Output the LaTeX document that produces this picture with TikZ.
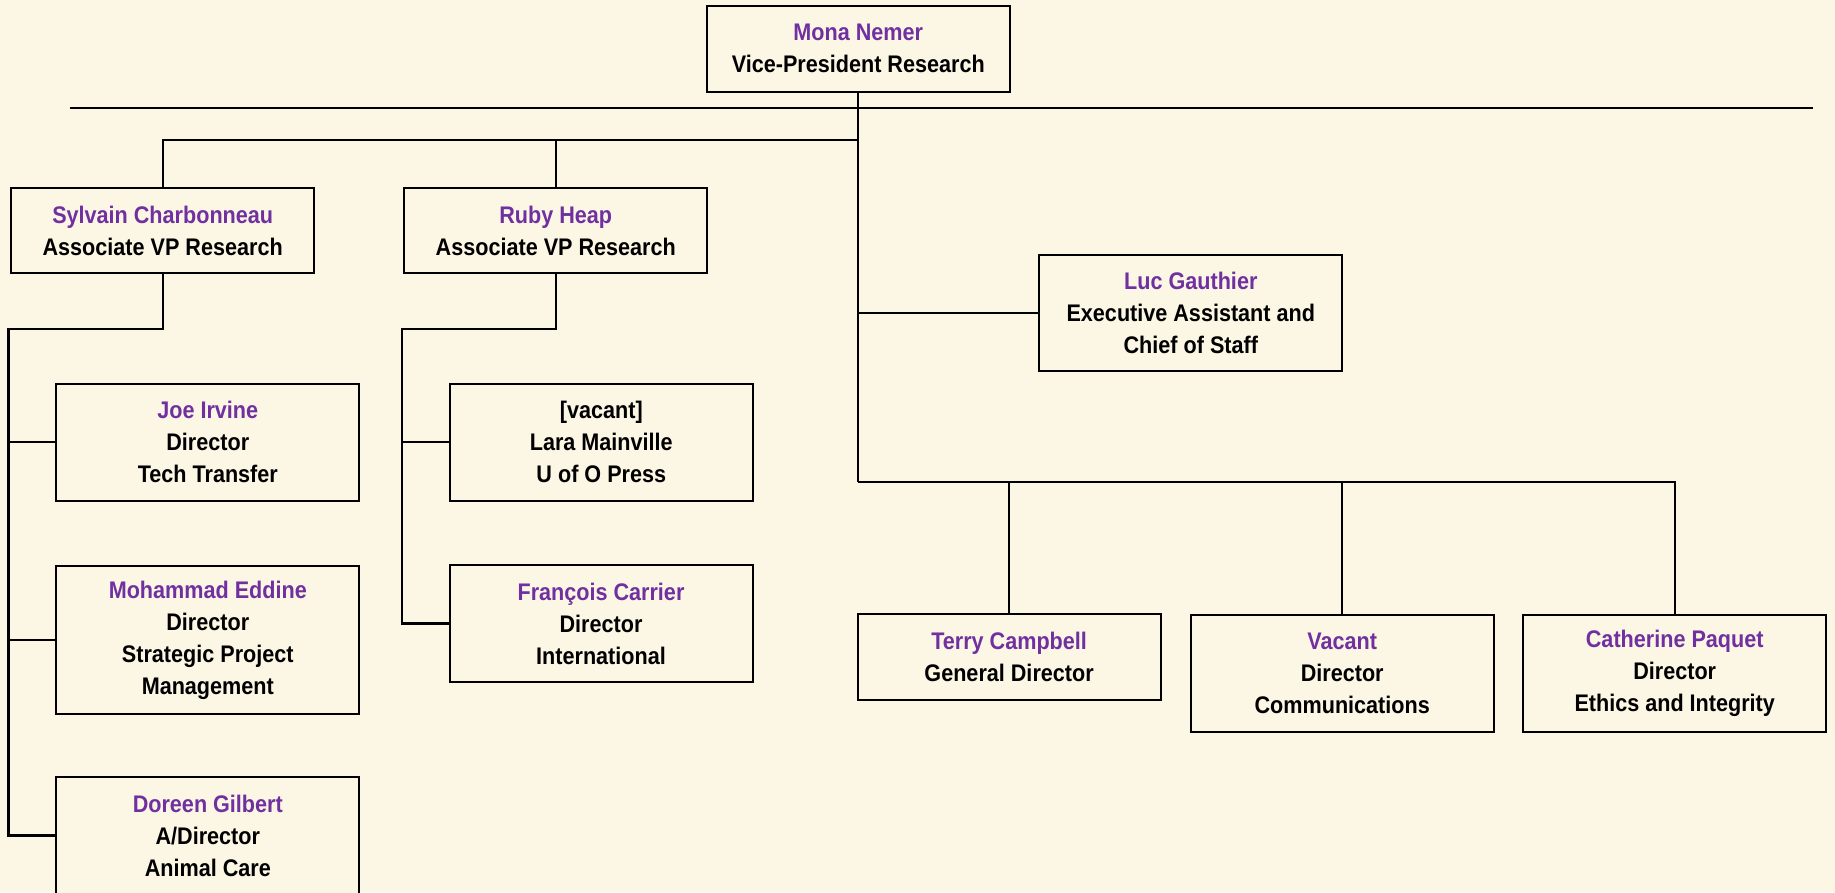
\documentclass[tikz,border=0pt]{standalone}
\usepackage{fontspec}
\setmainfont{Liberation Sans}[FakeStretch=0.9, BoldFont={Liberation Sans Bold}, BoldFeatures={FakeStretch=0.9}]
\definecolor{bgc}{RGB}{252,246,228}
\definecolor{pur}{RGB}{112,48,160}
\newcommand\pn[1]{\textcolor{pur}{#1}}
\tikzset{
  orgbox/.style={draw=black, line width=2pt, fill=bgc, inner sep=0pt, minimum width=303pt, align=center, font=\fontsize{24}{32}\selectfont\bfseries},
  two/.style={minimum height=85.5pt},
  three/.style={minimum height=116.5pt},
  four/.style={minimum height=148.5pt},
  conn/.style={draw=black, line width=2.3pt},
  thin/.style={draw=black, line width=2pt}
}
\begin{document}
\begin{tikzpicture}[x=1pt,y=-1pt]
\fill[bgc] (0,0) rectangle (1835,892);
\useasboundingbox (0,0) rectangle (1835,892);
\clip (0,0) rectangle (1835,892);

% coordinates
\coordinate (rl) at (70,108);
\coordinate (rr) at (1813,108);
\coordinate (br) at (858.3,140);
\coordinate (sylL) at (8.5,329.3);
\coordinate (rubL) at (402,329.3);
\coordinate (bus) at (858.3,482);

% nodes
\node[orgbox,two] (mona) at (858.3,48.8) {\pn{Mona Nemer}\\Vice-President Research};
\node[orgbox,two] (syl) at (162.7,230.5) {\pn{Sylvain Charbonneau}\\Associate VP Research};
\node[orgbox,two] (ruby) at (555.8,230.5) {\pn{Ruby Heap}\\Associate VP Research};
\node[orgbox,three] (luc) at (1190.8,313) {\pn{Luc Gauthier}\\Executive Assistant and\\Chief of Staff};
\node[orgbox,three] (joe) at (207.8,442.4) {\pn{Joe Irvine}\\Director\\Tech Transfer};
\node[orgbox,four] (moh) at (207.8,640) {\pn{Mohammad Eddine}\\Director\\Strategic Project\\Management};
\node[orgbox,three] (dor) at (207.8,835.5) {\pn{Doreen Gilbert}\\A/Director\\Animal Care};
\node[orgbox,three] (lara) at (601.3,442.4) {[vacant]\\Lara Mainville\\U of O Press};
\node[orgbox,three] (fran) at (601.0,623.5) {\pn{François Carrier}\\Director\\International};
\node[orgbox,two] (terry) at (1009.1,657.2) {\pn{Terry Campbell}\\General Director};
\node[orgbox,three] (comm) at (1342.2,673.5) {\pn{Vacant}\\Director\\Communications};
\node[orgbox,three] (cath) at (1674.7,673.5) {\pn{Catherine Paquet}\\Director\\Ethics and Integrity};

% connectors
\draw[line width=2pt] (rl) -- (rr);
\draw[conn] (mona.south) -- (bus);
\draw[conn] (syl.north) |- (br);
\draw[conn] (ruby.north) -- (ruby.north |- br);
\draw[conn] (syl.south) |- (sylL) |- (dor.west);
\draw[thin] (sylL |- joe.west) -- (joe.west);
\draw[thin] (sylL |- moh.west) -- (moh.west);
\draw[conn] (ruby.south) |- (rubL) |- (fran.west);
\draw[thin] (rubL |- lara.west) -- (lara.west);
\draw[thin] (mona.south |- luc.west) -- (luc.west);
\draw[conn] (bus) -| (cath.north);
\draw[thin] (bus -| terry.north) -- (terry.north);
\draw[thin] (bus -| comm.north) -- (comm.north);
\end{tikzpicture}
\end{document}
